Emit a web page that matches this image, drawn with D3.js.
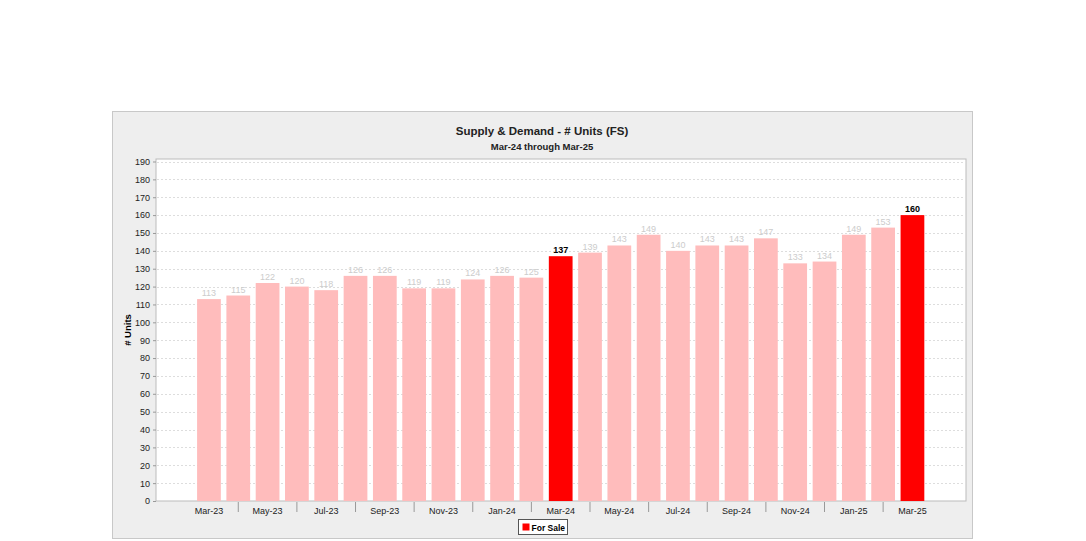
<!DOCTYPE html>
<html><head><meta charset="utf-8">
<script src="https://cdn.jsdelivr.net/npm/d3@7"></script>
<style>body{margin:0;background:#fff;font-family:"Liberation Sans",Arial,sans-serif;}</style>
</head><body>
<svg id="c" width="1086" height="541"></svg>
<script>
const categories = ["Mar-23","Apr-23","May-23","Jun-23","Jul-23","Aug-23","Sep-23","Oct-23","Nov-23","Dec-23","Jan-24","Feb-24","Mar-24","Apr-24","May-24","Jun-24","Jul-24","Aug-24","Sep-24","Oct-24","Nov-24","Dec-24","Jan-25","Feb-25","Mar-25"];
const forSale = [113,115,122,120,118,126,126,119,119,124,126,125,137,139,143,149,140,143,143,147,133,134,149,153,160];
const highlighted = ["Mar-24","Mar-25"];
const yTicks = d3.range(0,191,10);
const titleText = "Supply & Demand - # Units (FS)";
const subtitleText = "Mar-24 through Mar-25";
const yLabel = "# Units";
const legendLabel = "For Sale";

const svg = d3.select("#c");
// outer panel
svg.append("rect").attr("x",112.5).attr("y",111.5).attr("width",860).attr("height",427)
  .attr("fill","#eeeeee").attr("stroke","#c8c8c8");

const plot = {l:156, r:966, t:159, b:501};
const x = d3.scaleBand().domain(categories).range([194.3,927.1]).paddingInner(0.19).paddingOuter(0.095);
const y = d3.scaleLinear().domain([0,191.4]).range([plot.b, plot.t]);

svg.append("rect").attr("x",plot.l).attr("y",plot.t).attr("width",plot.r-plot.l).attr("height",plot.b-plot.t)
  .attr("fill","#fff").attr("stroke","#bbb");

// gridlines
svg.append("g").selectAll("line").data(yTicks.filter(d=>d>0)).join("line")
  .attr("x1",plot.l+1).attr("x2",plot.r-1).attr("y1",d=>Math.round(y(d))+0.5).attr("y2",d=>Math.round(y(d))+0.5)
  .attr("stroke","#ddd").attr("stroke-dasharray","2,2");

// y axis
const ya = svg.append("g").attr("transform",`translate(${plot.l},0)`)
  .call(d3.axisLeft(y).tickValues(yTicks).tickSize(3).tickPadding(3));
ya.select(".domain").remove();
ya.selectAll("line").attr("stroke","#999");
ya.selectAll("text").attr("font-size",9).attr("fill","#222").attr("font-family","Liberation Sans, Arial");

// bars
svg.append("g").selectAll("rect").data(categories).join("rect")
  .attr("x",d=>x(d)).attr("width",x.bandwidth())
  .attr("y",(d,i)=>y(forSale[i])).attr("height",(d,i)=>plot.b-y(forSale[i]))
  .attr("fill",d=>highlighted.includes(d)?"#ff0000":"#ffbcbc");

// value labels
svg.append("g").selectAll("text").data(categories).join("text")
  .attr("x",d=>x(d)+x.bandwidth()/2).attr("y",(d,i)=>y(forSale[i])-3)
  .attr("text-anchor","middle").attr("font-size",9)
  .attr("font-weight",d=>highlighted.includes(d)?"bold":"normal")
  .attr("fill",d=>highlighted.includes(d)?"#000":"#cccccc")
  .text((d,i)=>forSale[i]);

// x axis
const xa = svg.append("g").attr("transform",`translate(0,${plot.b})`)
  .call(d3.axisBottom(x).tickSize(0).tickPadding(7).tickFormat((d,i)=>i%2===0?d:""));
xa.select(".domain").remove();
xa.selectAll("text").attr("font-size",9).attr("fill","#222").attr("font-family","Liberation Sans, Arial");
xa.selectAll(".tick").filter((d,i)=>i%2===1).append("line").attr("y1",1).attr("y2",11).attr("stroke","#999");

// titles
svg.append("text").attr("x",542).attr("y",135).attr("text-anchor","middle")
  .attr("font-size",11.5).attr("font-weight","bold").attr("fill","#222").text(titleText);
svg.append("text").attr("x",542).attr("y",150).attr("text-anchor","middle")
  .attr("font-size",9.5).attr("font-weight","bold").attr("fill","#222").text(subtitleText);
svg.append("text").attr("transform","translate(131,330) rotate(-90)").attr("text-anchor","middle")
  .attr("font-size",9.5).attr("font-weight","bold").attr("fill","#000").text(yLabel);

// legend
const lg = svg.append("g").attr("transform","translate(518.5,519.5)");
lg.append("rect").attr("width",49).attr("height",15).attr("fill","#fff").attr("stroke","#555");
lg.append("rect").attr("x",4).attr("y",4).attr("width",7).attr("height",7).attr("fill","#ff0000");
lg.append("text").attr("x",13).attr("y",11).attr("font-size",8.5).attr("font-weight","bold").attr("fill","#000").text(legendLabel);
</script>
</body></html>
